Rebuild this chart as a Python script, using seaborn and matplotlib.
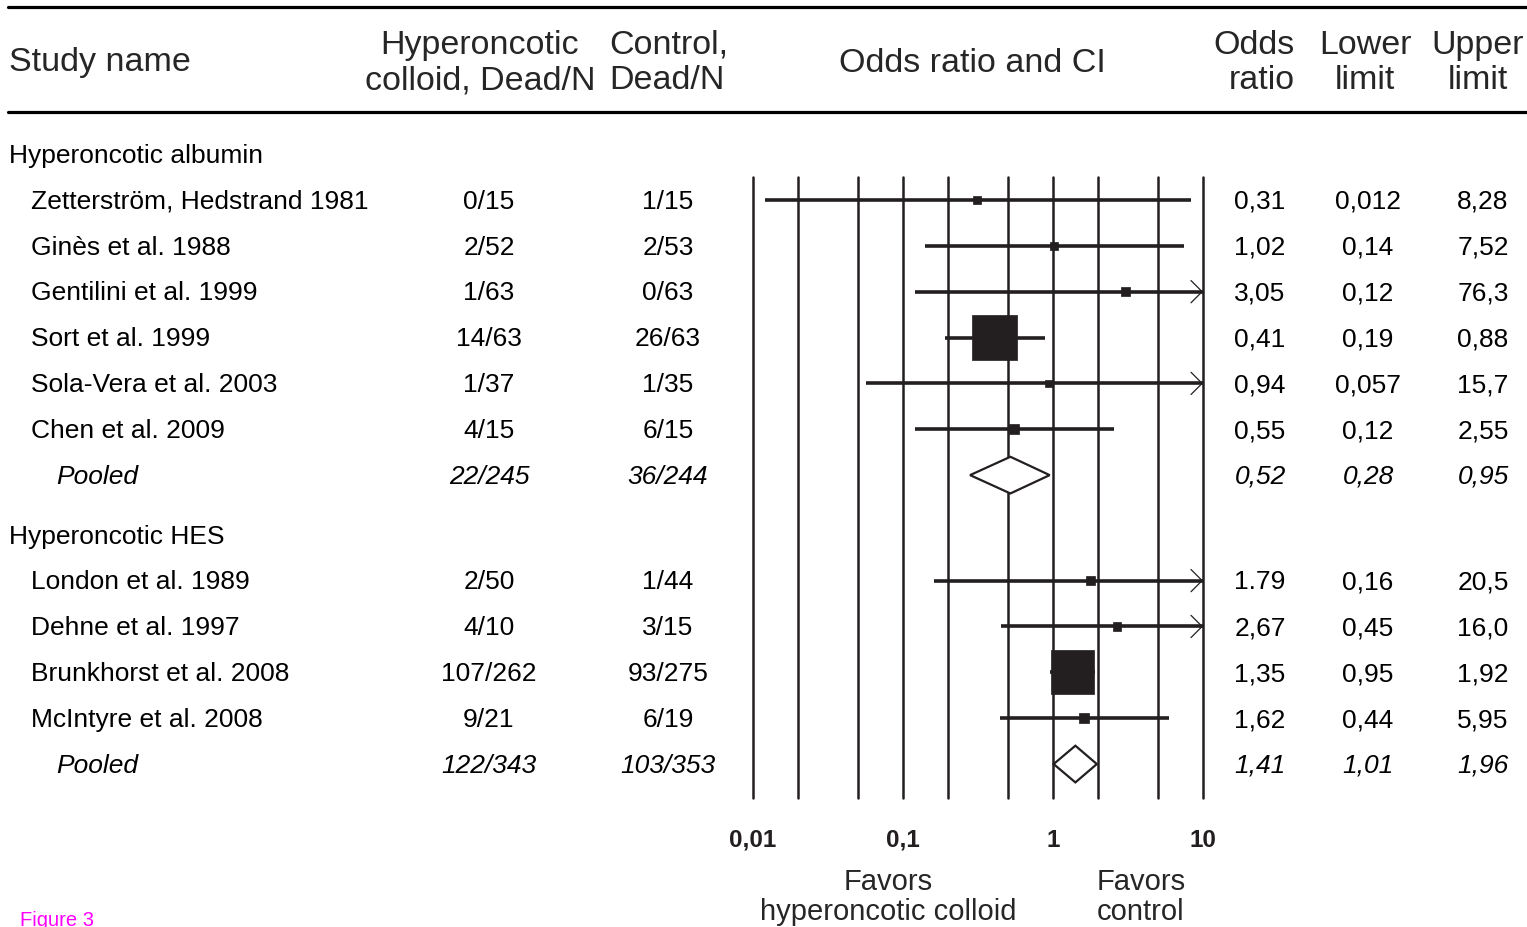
import numpy as np
import pandas as pd
import matplotlib
matplotlib.use("Agg")
import matplotlib.pyplot as plt
from matplotlib.lines import Line2D
from matplotlib.ticker import NullLocator
from matplotlib.transforms import blended_transform_factory
import seaborn as sns

# dane
groups = ["Hyperoncotic albumin", "Hyperoncotic HES"]

study = ["Zetterström, Hedstrand 1981", "Ginès et al. 1988", "Gentilini et al. 1999",
         "Sort et al. 1999", "Sola-Vera et al. 2003", "Chen et al. 2009",
         "London et al. 1989", "Dehne et al. 1997", "Brunkhorst et al. 2008",
         "McIntyre et al. 2008"]
group = [0, 0, 0, 0, 0, 0, 1, 1, 1, 1]
colloid = ["0/15", "2/52", "1/63", "14/63", "1/37", "4/15", "2/50", "4/10", "107/262", "9/21"]
control = ["1/15", "2/53", "0/63", "26/63", "1/35", "6/15", "1/44", "3/15", "93/275", "6/19"]
or_txt = ["0,31", "1,02", "3,05", "0,41", "0,94", "0,55", "1.79", "2,67", "1,35", "1,62"]
low_txt = ["0,012", "0,14", "0,12", "0,19", "0,057", "0,12", "0,16", "0,45", "0,95", "0,44"]
up_txt = ["8,28", "7,52", "76,3", "0,88", "15,7", "2,55", "20,5", "16,0", "1,92", "5,95"]
weight = [3, 3, 4, 100, 3, 5, 4, 4, 95, 5]  # wielkość kwadratów (szacunkowo)

pooled_colloid = ["22/245", "122/343"]
pooled_control = ["36/244", "103/353"]
pooled_or = ["0,52", "1,41"]
pooled_low = ["0,28", "1,01"]
pooled_up = ["0,95", "1,96"]

grid_vals = [0.01, 0.02, 0.05, 0.1, 0.2, 0.5, 1, 2, 5, 10]
tick_vals = [0.01, 0.1, 1, 10]
tick_labels = ["0,01", "0,1", "1", "10"]


def num(s):
    return float(s.replace(",", "."))


# pozycje wierszy
header_y, study_y, pooled_y = [], [], []
y = 0.0
for g in range(len(groups)):
    header_y.append(y)
    for gg in group:
        if gg == g:
            y += 1
            study_y.append(y)
    y += 1
    pooled_y.append(y)
    y += 1.3

df = pd.DataFrame({
    "study": study, "y": study_y, "weight": weight,
    "OR": [num(s) for s in or_txt],
    "lo": [num(s) for s in low_txt],
    "hi": [num(s) for s in up_txt],
})

sns.set_theme(style="white")
plt.rcParams["font.family"] = ["Liberation Sans", "DejaVu Sans"]
ink = "#231f20"

W, H = 1527, 927
fig = plt.figure(figsize=(W / 100, H / 100), dpi=100)
ax = fig.add_axes([753 / W, 1 - 798 / H, 450 / W, 621 / H])
ax.set_xscale("log")
ax.set_xlim(0.01, 10)
ax.set_ylim(14.04, 0.5)

for v in grid_vals:
    ax.axvline(v, color=ink, lw=1.8, zorder=1, clip_on=False)

ax.hlines(df["y"], df["lo"], df["hi"].clip(upper=10), color=ink, lw=2.6, zorder=2)
for _, r in df[df["hi"] > 10].iterrows():
    ax.annotate("", xy=(10, r["y"]), xytext=(8, r["y"]),
                arrowprops=dict(arrowstyle="->,head_length=0.8,head_width=0.8",
                                lw=0.9, color=ink, shrinkA=0, shrinkB=0,
                                mutation_scale=10), zorder=2)

sns.scatterplot(data=df, x="OR", y="y", size="weight", sizes=(31, 1050),
                marker="s", color=ink, edgecolor=ink, linewidth=0.5,
                legend=False, ax=ax, zorder=3)

for k in range(len(groups)):
    o, lo, hi, yy = num(pooled_or[k]), num(pooled_low[k]), num(pooled_up[k]), pooled_y[k]
    ax.fill([lo, o, hi, o], [yy, yy - 0.4, yy, yy + 0.4], facecolor="white",
            edgecolor=ink, lw=1.6, zorder=3)

ax.set_xticks(tick_vals)
ax.set_xticklabels(tick_labels, fontweight="bold", fontsize=17.5, color=ink)
ax.xaxis.set_minor_locator(NullLocator())
ax.tick_params(axis="x", length=0, pad=22)
ax.set_yticks([])
ax.set_xlabel("")
ax.set_ylabel("")
sns.despine(ax=ax, left=True, bottom=True)

# tekst tabeli
tr = blended_transform_factory(fig.transFigure, ax.transData)
fs = 19


def put(xpx, yy, s, ha="left", style="normal"):
    fig.text(xpx / W, yy + 0.04, s, transform=tr, ha=ha, va="center",
             fontsize=fs, style=style, color="black")


for g, yy in enumerate(header_y):
    put(9, yy, groups[g])
for i, r in df.iterrows():
    put(31, r["y"], r["study"])
    put(489, r["y"], colloid[i], "center")
    put(668, r["y"], control[i], "center")
    put(1260, r["y"], or_txt[i], "center")
    put(1368, r["y"], low_txt[i], "center")
    put(1483, r["y"], up_txt[i], "center")
for k, yy in enumerate(pooled_y):
    put(56, yy, "Pooled", style="italic")
    put(489, yy, pooled_colloid[k], "center", "italic")
    put(668, yy, pooled_control[k], "center", "italic")
    put(1260, yy, pooled_or[k], "center", "italic")
    put(1368, yy, pooled_low[k], "center", "italic")
    put(1483, yy, pooled_up[k], "center", "italic")

# nagłówek
hfs = 24.5
hls = 1.2
hy = 1 - 63 / H
fig.text(9 / W, hy, "Study name", ha="left", va="center", fontsize=hfs)
fig.text(480 / W, hy, "Hyperoncotic\ncolloid, Dead/N", ha="center", va="center",
         fontsize=hfs, linespacing=hls, multialignment="center")
fig.text(609 / W, hy, "Control,\nDead/N", ha="left", va="center",
         fontsize=hfs, linespacing=hls)
fig.text(972 / W, hy, "Odds ratio and CI", ha="center", va="center", fontsize=hfs)
fig.text(1295 / W, hy, "Odds\nratio", ha="right", va="center", fontsize=hfs,
         linespacing=hls, multialignment="right")
fig.text(1365 / W, hy, "Lower\nlimit", ha="center", va="center", fontsize=hfs,
         linespacing=hls)
fig.text(1478 / W, hy, "Upper\nlimit", ha="center", va="center", fontsize=hfs,
         linespacing=hls)

for ypx in [7, 112]:
    fig.add_artist(Line2D([8 / W, 1], [1 - ypx / H] * 2, color="black", lw=2.3))

fig.text(888 / W, 1 - 897 / H, "Favors\nhyperoncotic colloid", ha="center",
         va="center", fontsize=21, linespacing=1.12)
fig.text(1141 / W, 1 - 897 / H, "Favors\ncontrol", ha="center",
         va="center", fontsize=21, linespacing=1.12)

fig.text(20 / W, 1 - 911 / H, "Figure 3", ha="left", va="top",
         fontsize=14.5, color="#ff00ff")

fig.savefig("out.png", dpi=100)
